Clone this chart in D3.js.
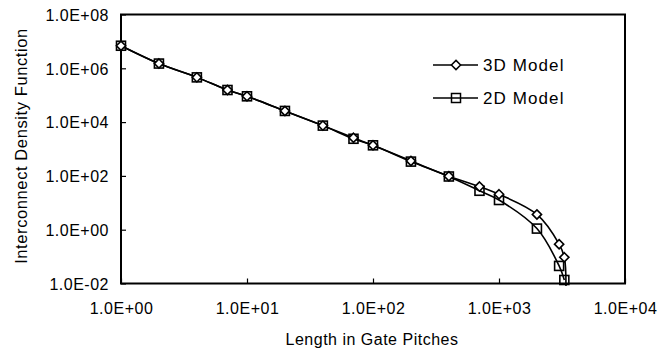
<!DOCTYPE html>
<html>
<head>
<meta charset="utf-8">
<script src="https://cdn.jsdelivr.net/npm/d3@7/dist/d3.min.js"></script>
<style>
  html, body { margin: 0; padding: 0; background: #fff; }
  svg text { font-family: "Liberation Sans", Arial, sans-serif; fill: #000; }
</style>
</head>
<body>
<svg id="chart" width="668" height="358"></svg>
<script>
// Wire length (gate pitches) and interconnect density for each model
const lengths3D = [1, 2, 4, 7, 10, 20, 40, 70, 100, 200, 400, 700, 1000, 2000, 3000, 3300, 3400];
const density3D = [6.9e6, 1.5e6, 4.6e5, 1.56e5, 9.1e4, 2.6e4, 7.4e3, 2.6e3, 1.37e3, 360, 97, 40, 20.7, 3.7, 0.29, 0.094, 0.008];
const lengths2D = [1, 2, 4, 7, 10, 20, 40, 70, 100, 200, 400, 700, 1000, 2000, 3000, 3300];
const density2D = [6.9e6, 1.5e6, 4.6e5, 1.56e5, 9.1e4, 2.6e4, 7.4e3, 2.4e3, 1.37e3, 340, 95, 28, 12.7, 1.1, 0.045, 0.0135];

const xTicks = [1, 10, 100, 1000, 10000];
const xTickLabels = ["1.0E+00", "1.0E+01", "1.0E+02", "1.0E+03", "1.0E+04"];
const yTicks = [1e-2, 1, 1e2, 1e4, 1e6, 1e8];
const yTickLabels = ["1.0E-02", "1.0E+00", "1.0E+02", "1.0E+04", "1.0E+06", "1.0E+08"];

const seriesNames = ["3D Model", "2D Model"];

const svg = d3.select("#chart");
const plot = { left: 121, right: 625, top: 14.5, bottom: 283.5 };

const x = d3.scaleLog().domain([1, 1e4]).range([plot.left, plot.right]);
const y = d3.scaleLog().domain([1e-2, 1e8]).range([plot.bottom, plot.top]);

const FS = 16;
const LS = "0.5px";

// Axes (ticks point into the plot)
const xAxis = svg.append("g")
  .attr("transform", `translate(0,${plot.bottom})`)
  .call(d3.axisBottom(x).tickValues(xTicks).tickSize(-5).tickPadding(0)
    .tickFormat((d, i) => xTickLabels[i]));
const yAxis = svg.append("g")
  .attr("transform", `translate(${plot.left},0)`)
  .call(d3.axisLeft(y).tickValues(yTicks).tickSize(-5).tickPadding(0)
    .tickFormat((d, i) => yTickLabels[i]));

[xAxis, yAxis].forEach(g => {
  g.select(".domain").remove();
  g.selectAll(".tick line").attr("stroke", "#000").attr("stroke-width", 1.2);
  g.selectAll(".tick text")
    .attr("font-size", FS)
    .attr("letter-spacing", LS)
    .attr("font-family", "Liberation Sans, Arial, sans-serif");
});
xAxis.selectAll(".tick text").attr("y", 30.5).attr("dy", null).attr("dominant-baseline", null);
yAxis.selectAll(".tick text").attr("x", -12).attr("dy", "0.36em");

// Plot frame
svg.append("rect")
  .attr("x", plot.left).attr("y", plot.top)
  .attr("width", plot.right - plot.left).attr("height", plot.bottom - plot.top)
  .attr("fill", "none").attr("stroke", "#000").attr("stroke-width", 2);

// Axis titles
svg.append("text")
  .attr("x", (plot.left + plot.right) / 2 - 1).attr("y", 345)
  .attr("text-anchor", "middle").attr("font-size", FS).attr("letter-spacing", LS)
  .text("Length in Gate Pitches");
svg.append("text")
  .attr("transform", `translate(27,${(plot.top + plot.bottom) / 2 - 3}) rotate(-90)`)
  .attr("text-anchor", "middle").attr("font-size", 16.5).attr("letter-spacing", "0.6px")
  .text("Interconnect Density Function");

const line = d3.line()
  .x(d => x(d[0])).y(d => y(d[1]))
  .curve(d3.curveCatmullRom.alpha(0.5));

const pts2D = lengths2D.map((l, i) => [l, density2D[i]]);
const pts3D = lengths3D.map((l, i) => [l, density3D[i]]);

// 2D model: line with open squares
svg.append("path").datum(pts2D)
  .attr("d", line).attr("fill", "none").attr("stroke", "#000").attr("stroke-width", 1.6);
const sq = 9;
svg.append("g").selectAll("rect").data(pts2D.filter(d => d[1] >= 1e-2)).join("rect")
  .attr("x", d => x(d[0]) - sq / 2).attr("y", d => y(d[1]) - sq / 2)
  .attr("width", sq).attr("height", sq)
  .attr("fill", "none").attr("stroke", "#000").attr("stroke-width", 1.6);

// 3D model: line with white diamonds
svg.append("path").datum(pts3D)
  .attr("d", line).attr("fill", "none").attr("stroke", "#000").attr("stroke-width", 1.6);
const dm = 4.6;
const diamond = (cx, cy) => `M${cx},${cy - dm}L${cx + dm},${cy}L${cx},${cy + dm}L${cx - dm},${cy}Z`;
svg.append("g").selectAll("path").data(pts3D.filter(d => d[1] >= 1e-2)).join("path")
  .attr("d", d => diamond(x(d[0]), y(d[1])))
  .attr("fill", "#fff").attr("stroke", "#000").attr("stroke-width", 1.6);

// Legend
const legend = svg.append("g");
const legendRows = [
  { name: seriesNames[0], y: 65, marker: "diamond" },
  { name: seriesNames[1], y: 98, marker: "square" }
];
legendRows.forEach(r => {
  legend.append("line").attr("x1", 433).attr("x2", 478).attr("y1", r.y).attr("y2", r.y)
    .attr("stroke", "#000").attr("stroke-width", 1.5);
  if (r.marker === "diamond") {
    legend.append("path").attr("d", diamond(456, r.y))
      .attr("fill", "#fff").attr("stroke", "#000").attr("stroke-width", 1.5);
  } else {
    legend.append("rect").attr("x", 456 - sq / 2).attr("y", r.y - sq / 2)
      .attr("width", sq).attr("height", sq)
      .attr("fill", "none").attr("stroke", "#000").attr("stroke-width", 1.5);
  }
  legend.append("text").attr("x", 483).attr("y", r.y + 6)
    .attr("font-size", 17).attr("letter-spacing", "1.1px").text(r.name);
});
</script>
</body>
</html>
